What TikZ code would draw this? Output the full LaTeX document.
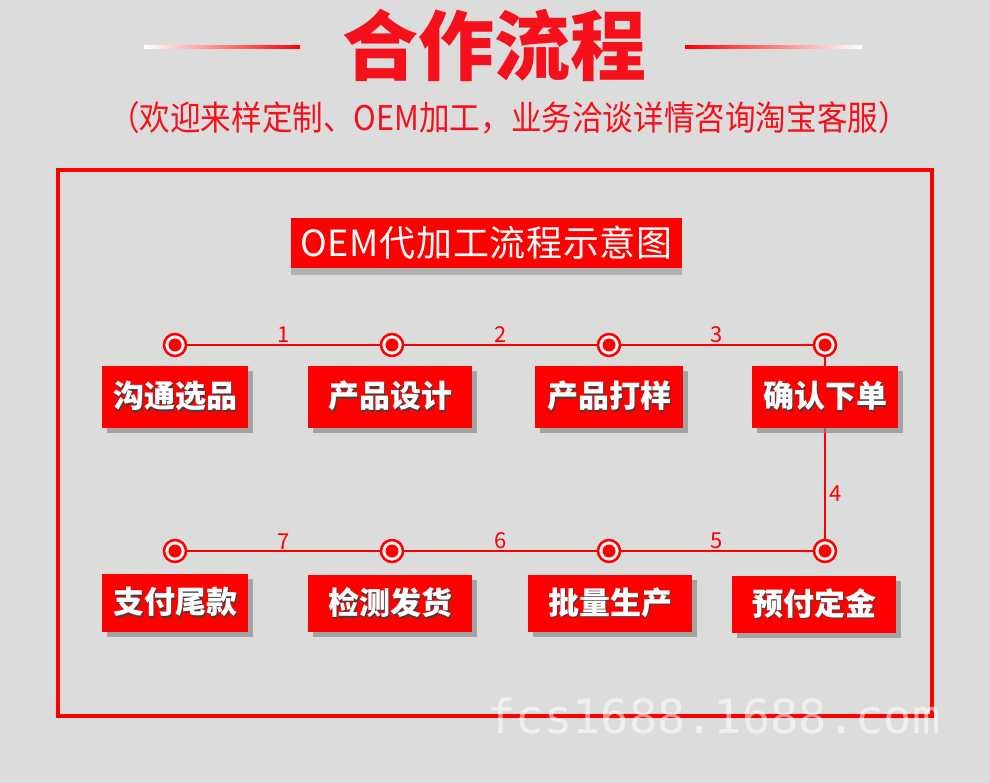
\documentclass[tikz,border=0pt]{standalone}
\usepackage{fontspec}
\setmainfont{Noto Sans CJK SC}
\newfontfamily\wmfont{DejaVu Sans Mono}
\usetikzlibrary{shadows}
\definecolor{bgc}{HTML}{DCDCDC}
\definecolor{fr}{HTML}{FF0000}
\definecolor{tr}{HTML}{F5101C}
\pgfdeclarelayer{bg}
\pgfsetlayers{bg,main}
\newcommand\shtxt[1]{\makebox[0pt][l]{\kern1.6pt\raisebox{-1.6pt}{\textcolor{black!75}{#1}}}\textcolor{white}{#1}}
\begin{document}
\begin{tikzpicture}[x=1pt,y=-1pt,
  stepbox/.style={fill=fr, inner sep=0pt, font=\bfseries\fontsize{31pt}{34pt}\selectfont,
    drop shadow={shadow xshift=5pt,shadow yshift=-5pt,fill=black!45,opacity=.7}},
  dotnode/.style={circle, draw=fr, line width=2.5pt, fill=white!75!bgc, minimum size=22pt, inner sep=0pt,
    path picture={\fill[fr] (path picture bounding box.center) circle (6.5pt);}},
  link/.style={draw=fr, line width=2pt},
  num/.style={text=fr, font=\fontsize{22pt}{24pt}\selectfont, inner sep=1pt}
]
\useasboundingbox (0,0) rectangle (990,783);
\begin{pgfonlayer}{bg}
\fill[bgc] (0,0) rectangle (990,783);
\end{pgfonlayer}

% title
\node[text=tr, font=\bfseries\fontsize{76pt}{80pt}\selectfont] (title) at (494,45) {合作流程};
\shade[left color=white, right color=fr] (144,46) rectangle (300,48.5);
\shade[left color=fr, right color=white] (685,46) rectangle (862,48.5);
\node[text=tr, font=\fontsize{34pt}{36pt}\selectfont] (sub) at (509,118) {\scalebox{0.9}[1]{（欢迎来样定制、OEM加工，业务洽谈详情咨询淘宝客服）}};

% frame
\draw[fr, line width=4pt] (58,170) rectangle (932,716);

% header
\node[fill=fr, minimum width=391pt, minimum height=50pt, inner sep=0pt, text=white,
  font=\fontsize{36pt}{40pt}\selectfont,
  drop shadow={shadow xshift=0pt,shadow yshift=-7pt,fill=black!50,opacity=.45}]
  (head) at (486.5,243) {\addfontfeature{LetterSpace=2}OEM代加工流程示意图};

% boxes
\node[stepbox, minimum width=146pt, minimum height=62pt] (b1) at (175,397) {\shtxt{沟通选品}};
\node[stepbox, minimum width=164pt, minimum height=62pt] (b2) at (390,397) {\shtxt{产品设计}};
\node[stepbox, minimum width=148pt, minimum height=62pt] (b3) at (609,397) {\shtxt{产品打样}};
\node[stepbox, minimum width=146pt, minimum height=62pt] (b4) at (825,397) {\shtxt{确认下单}};
\node[stepbox, minimum width=164pt, minimum height=57pt] (b5) at (814,604) {\shtxt{预付定金}};
\node[stepbox, minimum width=164pt, minimum height=57pt] (b6) at (610,603.5) {\shtxt{批量生产}};
\node[stepbox, minimum width=164pt, minimum height=57pt] (b7) at (390,603.5) {\shtxt{检测发货}};
\node[stepbox, minimum width=146pt, minimum height=58pt] (b8) at (175,603) {\shtxt{支付尾款}};

% circles
\node[dotnode] (c1) at (175,345) {};
\node[dotnode] (c2) at (392,345) {};
\node[dotnode] (c3) at (609,345) {};
\node[dotnode] (c4) at (825,345) {};
\node[dotnode] (c5) at (825,551) {};
\node[dotnode] (c6) at (609,551) {};
\node[dotnode] (c7) at (392,551) {};
\node[dotnode] (c8) at (175,551) {};

% links
\path[link] (c1) -- node[num, above=0pt] {1} (c2);
\path[link] (c2) -- node[num, above=0pt] {2} (c3);
\path[link] (c3) -- node[num, above=0pt] {3} (c4);
\begin{pgfonlayer}{bg}
\path[link] (c4) -- (c5);
\end{pgfonlayer}
\path (c4) -- node[num, pos=0.75, right=3pt] {4} (c5);
\path[link] (c5) -- node[num, above=0pt] {5} (c6);
\path[link] (c6) -- node[num, above=0pt] {6} (c7);
\path[link] (c7) -- node[num, above=0pt] {7} (c8);

% watermark
\node[text=white, opacity=.55, font=\wmfont\fontsize{47pt}{50pt}\selectfont] (wm) at (714,716) {fcs1688.1688.com};
\end{tikzpicture}
\end{document}
